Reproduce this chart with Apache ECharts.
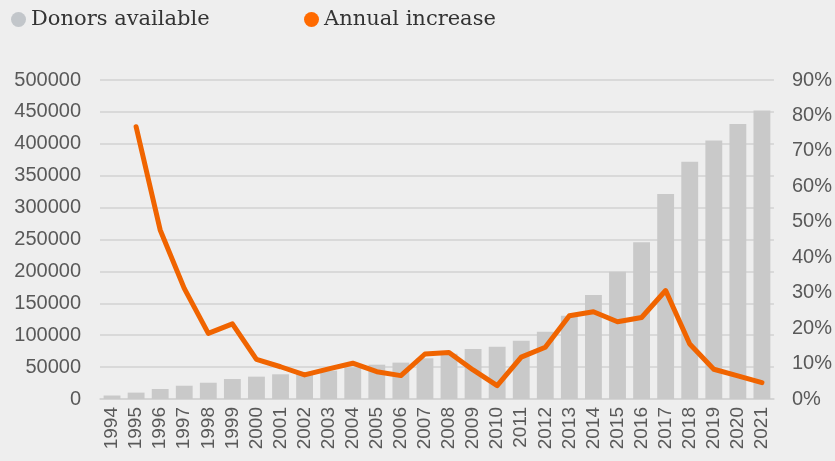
<!DOCTYPE html>
<html>
<head>
<meta charset="utf-8">
<script src="https://cdn.jsdelivr.net/npm/echarts@6/dist/echarts.min.js"></script>
<style>
  html, body { margin: 0; padding: 0; background: #eeeeee; }
  #chart { width: 835px; height: 461px; }
</style>
</head>
<body>
<div id="chart"></div>
<script>
// data
const years = ['1994', '1995', '1996', '1997', '1998', '1999', '2000', '2001', '2002', '2003',
  '2004', '2005', '2006', '2007', '2008', '2009', '2010', '2011', '2012', '2013',
  '2014', '2015', '2016', '2017', '2018', '2019', '2020', '2021'];
const donors = [5500, 10000, 15700, 20800, 25500, 31300, 35000, 38700, 42000, 44500,
  49500, 53800, 57000, 63800, 71000, 78400, 82000, 91400, 105500, 130600,
  163000, 199500, 245600, 321300, 372000, 405000, 431000, 452000];
const increase = [null, 76.8, 47.7, 31.2, 18.5, 21.2, 11.2, 9.1, 6.8, 8.5,
  10.1, 7.7, 6.6, 12.7, 13.1, 8.2, 3.8, 11.8, 14.6, 23.5,
  24.6, 21.8, 23.0, 30.6, 15.5, 8.4, 6.5, 4.6];
const leftTicks = { min: 0, max: 500000, interval: 50000 };
const rightTicks = { min: 0, max: 90, interval: 10 };

const barColor = '#c9c9c9';
const lineColor = '#f06400';
const labelColor = '#595959';
const gridColor = '#d2d2d2';

const legendText = {
  fontFamily: 'DejaVu Serif',
  fontSize: 21,
  color: '#333333'
};

const chart = echarts.init(document.getElementById('chart'));
chart.setOption({
  backgroundColor: '#eeeeee',
  animation: false,
  legend: [
    {
      left: 6, top: 4,
      icon: 'circle', itemWidth: 15, itemHeight: 15, itemGap: 8,
      textStyle: legendText,
      data: [{ name: 'Donors available', itemStyle: { color: '#c2c6ca' } }]
    },
    {
      left: 299, top: 4,
      icon: 'circle', itemWidth: 15, itemHeight: 15, itemGap: 8,
      textStyle: legendText,
      data: [{ name: 'Annual increase', itemStyle: { color: '#ff6a00' } }]
    }
  ],
  grid: { left: 100, right: 60, top: 80, bottom: 62 },
  xAxis: [
    {
      type: 'category',
      data: years,
      axisLine: { lineStyle: { color: gridColor, width: 1.5 } },
      axisTick: { show: false },
      axisLabel: { show: false }
    },
    {
      // separate axis that only carries the vertical year labels
      type: 'category',
      data: years,
      position: 'bottom',
      axisLine: { show: false },
      axisTick: { show: false },
      splitLine: { show: false },
      axisLabel: { interval: 0, rotate: 90, fontSize: 19, color: labelColor }
    }
  ],
  yAxis: [
    {
      type: 'value',
      min: leftTicks.min, max: leftTicks.max, interval: leftTicks.interval,
      axisLine: { show: false },
      axisTick: { show: false },
      splitLine: { lineStyle: { color: gridColor, width: 1.5 } },
      axisLabel: {
        margin: 19, color: labelColor, fontSize: 20,
        formatter: function (v) { return String(v); }
      }
    },
    {
      type: 'value',
      min: rightTicks.min, max: rightTicks.max, interval: rightTicks.interval,
      axisLine: { show: false },
      axisTick: { show: false },
      splitLine: { show: false },
      axisLabel: { margin: 18, color: labelColor, fontSize: 20, formatter: '{value}%' }
    }
  ],
  series: [
    {
      name: 'Donors available',
      type: 'bar',
      data: donors,
      barCategoryGap: '30%',
      itemStyle: { color: barColor }
    },
    {
      name: 'Annual increase',
      type: 'line',
      yAxisIndex: 1,
      data: increase,
      symbol: 'none',
      lineStyle: { color: lineColor, width: 5, cap: 'round', join: 'round' },
      itemStyle: { color: lineColor }
    }
  ]
});
</script>
</body>
</html>
